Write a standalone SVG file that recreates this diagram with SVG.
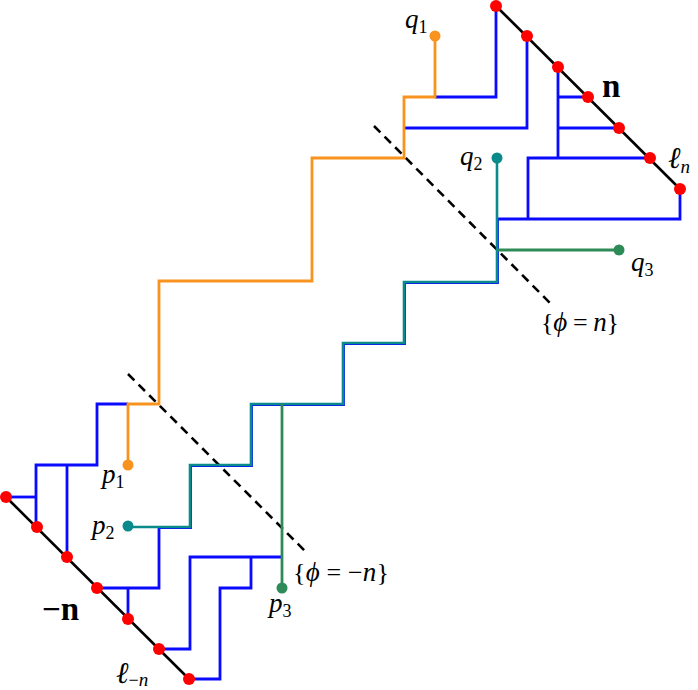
<svg xmlns="http://www.w3.org/2000/svg" width="698" height="690" viewBox="0 0 698 690">
<style>
.bl{fill:none;stroke:#0a0aff;stroke-width:2.8;stroke-linejoin:miter}
.or{fill:none;stroke:#f7931e;stroke-width:2.8}
.te{fill:none;stroke:#0a8a8a;stroke-width:2.6}
.gr{fill:none;stroke:#2e8b57;stroke-width:2.8}
.ax{stroke:#000;stroke-width:2.6}
.da{stroke:#000;stroke-width:2.6;stroke-dasharray:9 6}
.rd{fill:#ff0000}
.m{font-style:italic;font-size:27px}
.s{font-size:18px;font-style:normal}
.si{font-size:19px;font-style:italic}
.l{font-style:italic;font-size:30px}
.b{font-weight:bold;font-size:33px}
.u{font-size:26px}
</style>
<g id="level-lines">
<line class="ax" x1="496" y1="6" x2="680" y2="189"/>
<line class="ax" x1="6" y1="497" x2="189" y2="679"/>
<line class="da" x1="374" y1="126" x2="552" y2="305"/>
<line class="da" x1="128" y1="374" x2="307" y2="553"/>
</g>
<g id="connectors">
<path class="bl" d="M496,6 V97 H435"/>
<path class="bl" d="M527,36 V128 H404"/>
<path class="bl" d="M558,67 V158 M558,97 H588 M558,128 H619"/>
<path class="bl" d="M650,158 H528 V219"/>
<path class="bl" d="M680,189 V219 H497"/>
<path class="bl" d="M497.5,219 V282.5 H404.5 V343.5 H343.5 V404.5 H251.5 V465.5 H190.5 V527.5 H159 V588 H97"/>
<path class="bl" d="M6,497 H36"/>
<path class="bl" d="M36,527 V465 H97 V404 H128"/>
<path class="bl" d="M67,557 V465"/>
<path class="bl" d="M128,619 V588"/>
<path class="bl" d="M159,649 H190 V557 H282"/>
<path class="bl" d="M251,557 V588 H220 V679 H189"/>
<path class="or" d="M435,36 V97 H404 V158 H312 V281 H159 V404 H128 V465"/>
<path class="te" d="M497,158 V282 H404 V343 H343 V404 H251 V465 H190 V527 H128"/>
<path class="gr" d="M282,404 V588"/>
<path class="gr" d="M497,250 H619"/>
</g>
<g id="nodes-ln">
<circle class="rd" cx="496" cy="6" r="6"/>
<circle class="rd" cx="527" cy="36" r="6"/>
<circle class="rd" cx="558" cy="67" r="6"/>
<circle class="rd" cx="588" cy="97" r="6"/>
<circle class="rd" cx="619" cy="128" r="6"/>
<circle class="rd" cx="650" cy="158" r="6"/>
<circle class="rd" cx="680" cy="189" r="6"/>
</g>
<g id="nodes-l-n">
<circle class="rd" cx="6" cy="497" r="6"/>
<circle class="rd" cx="37" cy="527" r="6"/>
<circle class="rd" cx="67" cy="557" r="6"/>
<circle class="rd" cx="97" cy="588" r="6"/>
<circle class="rd" cx="128" cy="619" r="6"/>
<circle class="rd" cx="159" cy="649" r="6"/>
<circle class="rd" cx="189" cy="679" r="6"/>
</g>
<g font-family="Liberation Serif, DejaVu Serif, serif" fill="#000">
<g id="q1"><circle cx="435" cy="36" r="5.5" fill="#f7931e"/><text class="m" x="405" y="28">q<tspan class="s" dy="5">1</tspan></text></g>
<g id="q2"><circle cx="497" cy="158" r="5.5" fill="#0a8a8a"/><text class="m" x="460" y="165">q<tspan class="s" dy="5">2</tspan></text></g>
<g id="q3"><circle cx="619" cy="250" r="5.5" fill="#2e8b57"/><text class="m" x="631" y="271">q<tspan class="s" dy="5">3</tspan></text></g>
<g id="p1"><circle cx="128" cy="465" r="5.5" fill="#f7931e"/><text class="m" x="102" y="483">p<tspan class="s" dy="5">1</tspan></text></g>
<g id="p2"><circle cx="128" cy="526" r="5.5" fill="#0a8a8a"/><text class="m" x="92" y="534">p<tspan class="s" dy="5">2</tspan></text></g>
<g id="p3"><circle cx="282" cy="588" r="5.5" fill="#2e8b57"/><text class="m" x="269" y="612">p<tspan class="s" dy="5">3</tspan></text></g>
<g id="labels">
<text class="b" x="602" y="97">n</text>
<text class="b" x="42" y="620">−n</text>
<text class="l" x="668" y="168">ℓ<tspan class="si" dy="5">n</tspan></text>
<text class="l" x="116" y="683">ℓ<tspan class="s" dy="3" font-size="20">−</tspan><tspan class="si">n</tspan></text>
<text class="u" x="541" y="331" textLength="78" lengthAdjust="spacing">{<tspan class="m">ϕ</tspan> = <tspan class="m">n</tspan>}</text>
<text class="u" x="293" y="581" textLength="96" lengthAdjust="spacing">{<tspan class="m">ϕ</tspan> = −<tspan class="m">n</tspan>}</text>
</g>
</g>
</svg>
